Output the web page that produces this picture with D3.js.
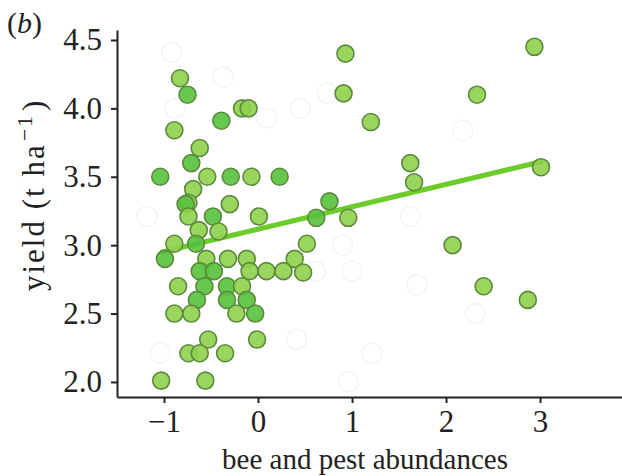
<!DOCTYPE html>
<html>
<head>
<meta charset="utf-8">
<script src="https://cdn.jsdelivr.net/npm/d3@7"></script>
<style>
  body { margin: 0; background: #fff; }
  svg text { font-family: "Liberation Serif", "DejaVu Serif", serif; fill: #222; }
</style>
</head>
<body>
<div class="chart"></div>
<script>
// abundance (x) and yield (y) for each field, shade 1 = darker green
var pointX = [-0.83,-0.75,-0.17,-0.10,-0.39,-0.89,-0.62,-0.71,-1.04,-0.54,-0.29,-0.07,0.23,-0.69,-0.74,-0.77,-0.30,-0.74,-0.48,0.01,
  -0.63,-0.42,-0.89,-0.66,-0.99,-0.55,-0.32,-0.12,0.39,-0.62,-0.47,-0.09,0.09,0.27,0.48,0.52,-0.85,-0.57,-0.33,-0.17,
  -0.65,-0.33,-0.12,-0.89,-0.71,-0.23,-0.03,-0.53,-0.01,-0.74,-0.62,-0.35,-1.03,-0.56,0.93,2.94,0.91,2.33,1.20,1.62,
  1.66,3.01,0.76,0.62,0.96,2.07,2.40,2.87];
var pointY = [4.22,4.10,4.00,4.00,3.91,3.84,3.71,3.60,3.50,3.50,3.50,3.50,3.50,3.41,3.31,3.30,3.30,3.21,3.21,3.21,
  3.11,3.10,3.01,3.01,2.90,2.90,2.90,2.90,2.90,2.81,2.81,2.81,2.81,2.81,2.80,3.01,2.70,2.70,2.70,2.70,
  2.60,2.60,2.60,2.50,2.50,2.50,2.50,2.31,2.31,2.21,2.21,2.21,2.01,2.01,4.40,4.45,4.11,4.10,3.90,3.60,
  3.46,3.57,3.32,3.20,3.20,3.00,2.70,2.60];
var pointShade = [0,1,0,0,1,0,0,1,1,0,1,0,1,0,0,1,0,0,1,0,
  0,0,0,1,1,0,0,0,0,1,1,0,0,0,0,0,0,1,1,0,
  1,1,1,0,0,0,1,0,0,0,0,0,0,0,0,0,0,0,0,0,
  0,0,1,1,0,0,0,0];

// faint leftover circles visible in the figure
var ghostX = [-0.92,-0.37,-0.88,0.09,0.45,0.74,2.18,1.62,1.00,1.69,2.31,0.41,1.21,0.96,0.61,0.90,-1.18,-1.04];
var ghostY = [4.41,4.23,4.00,3.93,4.00,4.11,3.84,3.21,2.81,2.71,2.50,2.31,2.21,2.00,2.81,3.00,3.21,2.21];

// fitted line
var fitX = [-1.02, 3.01];
var fitY = [2.95, 3.61];

var xTicks = [-1, 0, 1, 2, 3];
var yTicks = [2.0, 2.5, 3.0, 3.5, 4.0, 4.5];

var width = 622, height = 476;

var xScale = d3.scaleLinear().domain([-1.5, 3.872]).range([117, 622]);
var yScale = d3.scaleLinear().domain([1.89, 4.573]).range([397, 30]);

var canvas = d3.select(".chart").append("svg")
  .attr("width", width)
  .attr("height", height);

// ghost circles
canvas.selectAll("circle.ghost")
  .data(d3.range(ghostX.length))
  .enter()
  .append("circle")
  .attr("class", "ghost")
  .attr("cx", function(i){ return xScale(ghostX[i]); })
  .attr("cy", function(i){ return yScale(ghostY[i]); })
  .attr("r", 10)
  .attr("fill", "none")
  .attr("stroke", "#f4f4f4")
  .attr("stroke-width", 1.5);

// regression line
canvas.append("line")
  .attr("x1", xScale(fitX[0])).attr("y1", yScale(fitY[0]))
  .attr("x2", xScale(fitX[1])).attr("y2", yScale(fitY[1]))
  .attr("stroke", "#6ccd2a")
  .attr("stroke-width", 5)
  .attr("stroke-linecap", "round");

// points
canvas.selectAll("circle.pt")
  .data(d3.range(pointX.length))
  .enter()
  .append("circle")
  .attr("class", "pt")
  .attr("cx", function(i){ return xScale(pointX[i]); })
  .attr("cy", function(i){ return yScale(pointY[i]); })
  .attr("r", 8.5)
  .attr("fill", function(i){ return pointShade[i] ? "#55c23c" : "#8fd24c"; })
  .attr("fill-opacity", 0.9)
  .attr("stroke", "#5c8a3c")
  .attr("stroke-width", 1.6);

// axes
var fmt = function(d){ return d < 0 ? "\u2212" + Math.abs(d) : String(d); };

canvas.append("g")
  .attr("class", "x axis")
  .attr("transform", "translate(0,397)")
  .call(d3.axisBottom(xScale).tickValues(xTicks).tickFormat(fmt).tickSize(6).tickSizeOuter(0).tickPadding(7));

canvas.append("g")
  .attr("class", "y axis")
  .attr("transform", "translate(117,0)")
  .call(d3.axisLeft(yScale).tickValues(yTicks).tickFormat(d3.format(".1f")).tickSize(6).tickSizeOuter(0).tickPadding(9));

canvas.selectAll(".axis path, .axis line")
  .attr("stroke", "#222")
  .attr("stroke-width", 2);
canvas.selectAll(".axis text")
  .style("font-family", "'Liberation Serif', serif")
  .style("font-size", "31px")
  .attr("fill", "#222");

// labels
canvas.append("text")
  .text("bee and pest abundances")
  .attr("x", 365)
  .attr("y", 469)
  .attr("text-anchor", "middle")
  .style("font-size", "29px");

var ylab = canvas.append("text")
  .attr("transform", "translate(44,291) rotate(-90)")
  .attr("text-anchor", "start")
  .style("font-size", "31px")
  .style("letter-spacing", "2px");
ylab.append("tspan").text("yield (t ha");
ylab.append("tspan").text("\u22121").attr("dx", 2).attr("dy", -12).style("font-size", "22px");
ylab.append("tspan").text(")").attr("dx", 3).attr("dy", 12);

var tag = canvas.append("text")
  .attr("x", 7)
  .attr("y", 33)
  .style("font-size", "30px");
tag.append("tspan").text("(");
tag.append("tspan").text("b").style("font-style", "italic");
tag.append("tspan").text(")");
</script>
</body>
</html>
